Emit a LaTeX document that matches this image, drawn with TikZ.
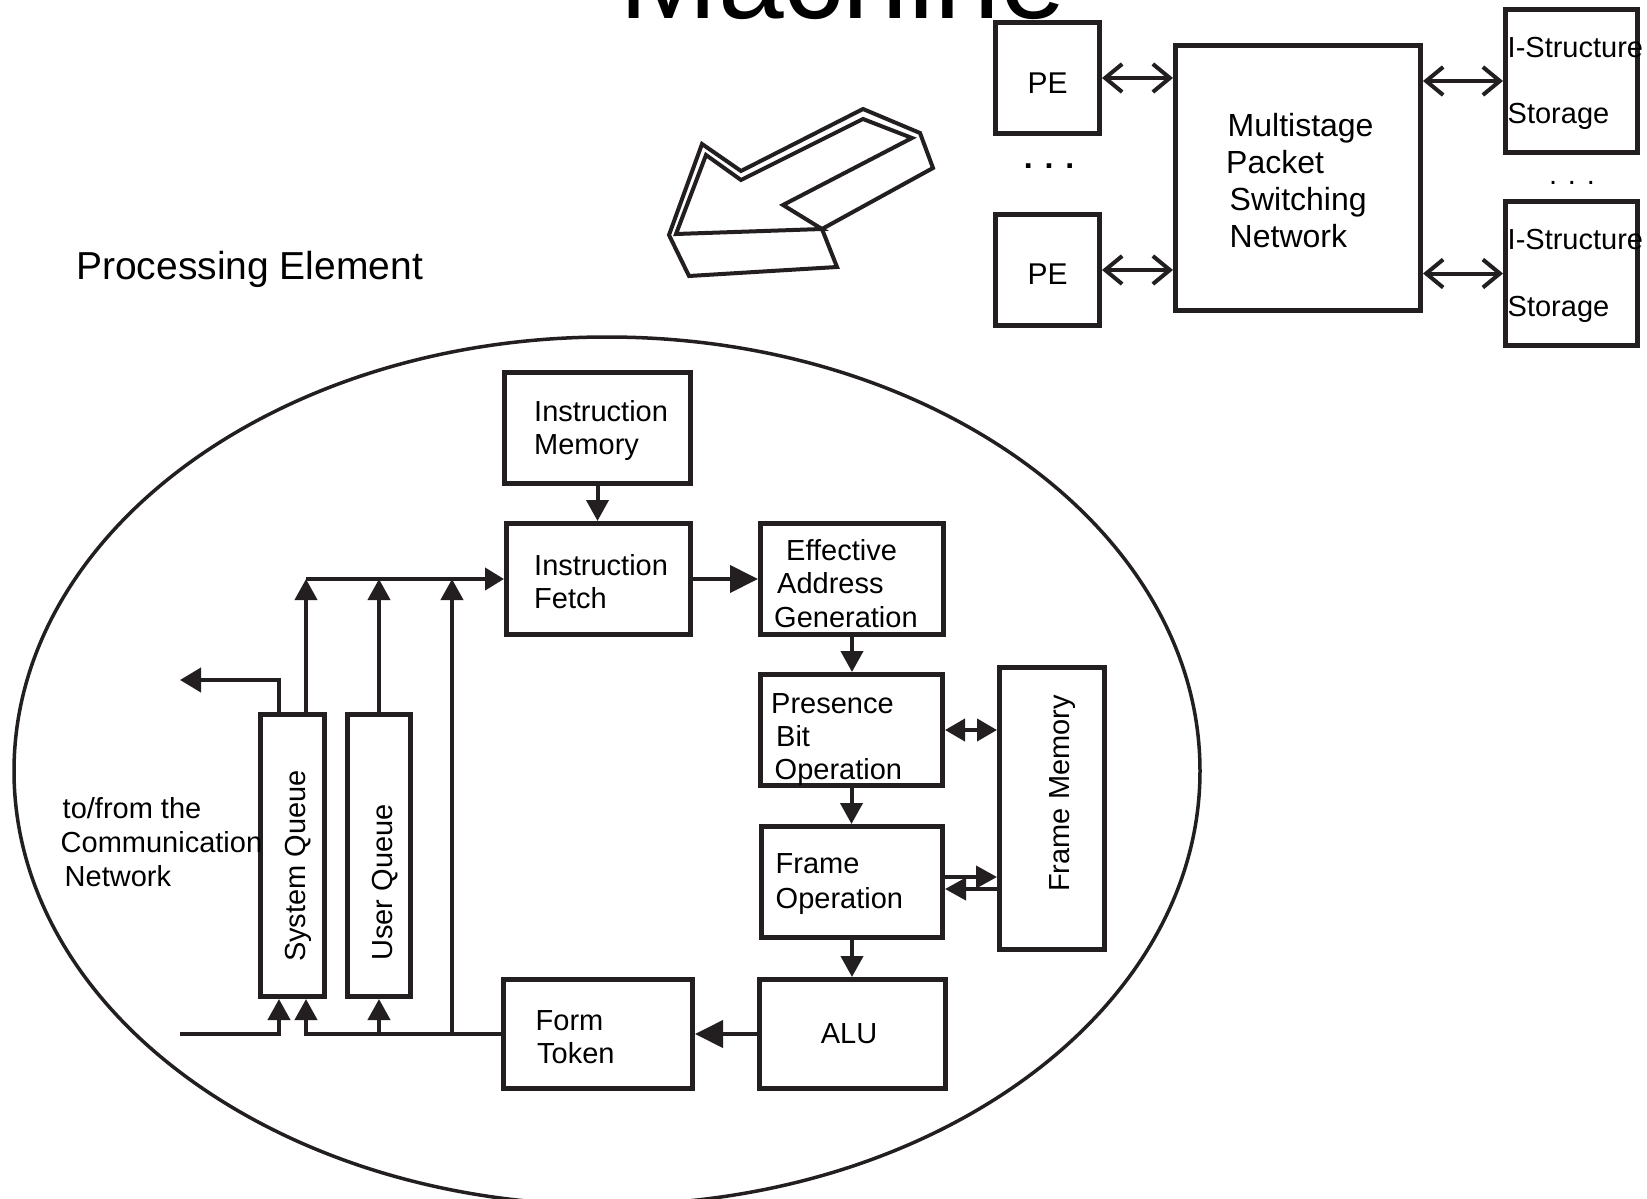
\documentclass[tikz,border=0pt]{standalone}
\usepackage{fontspec}
\setmainfont{Liberation Sans}
\usetikzlibrary{arrows.meta}
\definecolor{ink}{HTML}{231F20}
% multi-line label whose baseline is that of its first line
\newcommand\txtlines[1]{\begin{tabular}[t]{@{}l@{}}#1\end{tabular}}
% text lowered inside its box without changing the box's centring
\newcommand\lowered[2]{\raisebox{-#1}[0pt][0pt]{#2}}
\begin{document}
\begin{tikzpicture}[x=1pt,y=-1pt,
  box/.style={draw=ink, line width=5pt, inner sep=0pt},
  lbl/.style={inner sep=0pt, anchor=base west},
  conn/.style={draw=ink, line width=4pt},
  fhead/.style={-{Triangle[length=21pt,width=22pt]}},
  bighead/.style={-{Triangle[length=28pt,width=27pt]}},
  dblhead/.style={{Triangle[length=20pt,width=22pt]}-{Triangle[length=20pt,width=22pt]}},
  openarr/.style={{Straight Barb[length=17pt,width=28pt]}-{Straight Barb[length=17pt,width=28pt]}},
  fA/.style={font=\fontsize{29}{33}\selectfont},
  vtext/.style={inner sep=0pt, anchor=base, rotate=90, font=\fontsize{29}{33}\selectfont},
]
\fill[white] (0,0) rectangle (1647,1199);
\useasboundingbox (0,0) rectangle (1647,1199);

% ---------- title (runs off the top edge) ----------
\node[inner sep=0pt, anchor=base, font=\fontsize{118}{124}\selectfont] (title) at (843,19) {Machine};

% ---------- machine level ----------
\node[box, minimum width=104, minimum height=111, font=\fontsize{30}{34}\selectfont] (pe1) at (1047.5,78) {\lowered{15pt}{PE}};
\node[box, minimum width=104, minimum height=111, font=\fontsize{30}{34}\selectfont] (pe2) at (1047.5,270) {\lowered{14pt}{PE}};
\node[inner sep=0pt, anchor=base, font=\fontsize{32}{36}\selectfont\bfseries] (pedots) at (1049,168) {. . .};

\node[box, minimum width=245, minimum height=265] (net) at (1298,178) {};
\node[lbl, font=\fontsize{32}{37}\selectfont] (nettxt) at (1226,136)
  {\txtlines{\hspace{1.5pt}Multistage\\Packet\\\hspace{3.5pt}Switching\\\hspace{3.5pt}Network}};

\node[box, minimum width=132, minimum height=143] (is1) at (1571.5,81) {};
\node[box, minimum width=132, minimum height=144] (is2) at (1571.5,273.5) {};
\node[lbl, font=\fontsize{29}{66}\selectfont] (is1txt) at (1507.5,58) {\txtlines{I-Structure\\Storage}};
\node[lbl, font=\fontsize{29}{67}\selectfont] (is2txt) at (1507.5,249) {\txtlines{I-Structure\\Storage}};
\node[inner sep=0pt, anchor=base, font=\fontsize{29}{33}\selectfont] (isdots) at (1572,184) {. . .};

\draw[conn, openarr] (pe1.east) -- (net.west |- pe1.east);
\draw[conn, openarr] (pe2.east) -- (net.west |- pe2.east);
\draw[conn, openarr] (net.east |- is1.west) -- (is1.west);
\draw[conn, openarr] (net.east |- is2.west) -- (is2.west);

% ---------- hollow 3-D arrow pointing down into the element ----------
\draw[ink, line width=4pt, line join=miter]
  (669,235) -- (702,144) -- (741,171) -- (863,109) -- (920,133) -- (933,168)
  -- (822,229) -- (837,267) -- (689,276) -- cycle;
\draw[ink, line width=4pt, line join=miter]
  (676,234) -- (706,155) -- (741,180) -- (863,119) -- (912,138) -- (783,205)
  -- (822,229) -- cycle;

\node[lbl, font=\fontsize{39}{44}\selectfont] (ptitle) at (76,279) {Processing Element};

% ---------- processing element ----------
\draw[ink, line width=3.5pt] (607,771) ellipse [x radius=593, y radius=434];

\node[box, minimum width=186, minimum height=111] (im) at (597.5,428) {};
\node[box, minimum width=184, minimum height=111] (if) at (598.5,579) {};
\node[box, minimum width=183, minimum height=111] (eag) at (852,579) {};
\node[box, minimum width=182, minimum height=111] (pbo) at (851.5,730) {};
\node[box, minimum width=181, minimum height=111] (fo) at (852,882) {};
\node[box, minimum width=186, minimum height=109, fA] (alu) at (852.5,1034) {\hspace{-7pt}\lowered{9pt}{ALU}};
\node[box, minimum width=189, minimum height=109] (ft) at (598,1034) {};
\node[box, minimum width=105, minimum height=282] (fm) at (1052,808.5) {};
\node[box, minimum width=64, minimum height=282] (sq) at (292.5,855.5) {};
\node[box, minimum width=63, minimum height=282] (uq) at (379,855.5) {};

\node[lbl, fA] (imtxt) at (534,421) {\txtlines{Instruction\\Memory}};
\node[lbl, fA] (iftxt) at (534,575) {\txtlines{Instruction\\Fetch}};
\node[lbl, font=\fontsize{29}{33.5}\selectfont] (eagtxt) at (774,560)
  {\txtlines{\hspace{12pt}Effective\\\hspace{3pt}Address\\Generation}};
\node[lbl, fA] (pbotxt) at (771,713)
  {\txtlines{Presence\\\hspace{5pt}Bit\\\hspace{3.5pt}Operation}};
\node[lbl, font=\fontsize{29}{35}\selectfont] (fotxt) at (775.5,873) {\txtlines{Frame\\Operation}};
\node[lbl, fA] (fttxt) at (535.5,1030) {\txtlines{Form\\\hspace{1.5pt}Token}};
\node[lbl, font=\fontsize{29}{34}\selectfont] (commtxt) at (60.5,818)
  {\txtlines{\hspace{2pt}to/from the\\Communication\\\hspace{4pt}Network}};

\node[vtext] (sqtxt) at (305,866) {System Queue};
\node[vtext] (uqtxt) at (392,882.5) {User Queue};
\node[vtext] (fmtxt) at (1069,793.5) {Frame Memory};

% helper levels for the queue wiring
\coordinate (xsq) at (306,0);
\coordinate (xsqo) at (279,0);
\coordinate (xbus) at (452,0);
\coordinate (ybus) at (0,579);
\coordinate (fy1) at (0,877);
\coordinate (fy2) at (0,889);
\coordinate (outEnd) at (180,680);
\coordinate (inEnd) at (180,1034);

% pipeline
\draw[conn, fhead] (im.south) -- (im.south |- if.north);
\draw[conn, bighead] (if.east) -- (eag.west);
\draw[conn, fhead] (eag.south) -- (eag.south |- pbo.north);
\draw[conn, dblhead] (pbo.east) -- (fm.west |- pbo.east);
\draw[conn, fhead] (pbo.south) -- (pbo.south |- fo.north);
\draw[conn, fhead] (fo.east |- fy1) -- (fm.west |- fy1);
\draw[conn, fhead] (fm.west |- fy2) -- (fo.east |- fy2);
\draw[conn, fhead] (fo.south) -- (fo.south |- alu.north);
\draw[conn, bighead] (alu.west) -- (ft.east);

% token bus into instruction fetch
\draw[conn, -{Triangle[length=19pt,width=22pt]}] (xsq |- ybus) -- (if.west);
\draw[conn, fhead] (sq.north -| xsq) -- (xsq |- ybus);
\draw[conn, fhead] (uq.north) -- (uq.north |- ybus);
\draw[conn, fhead] (xbus |- ft.west) -- (xbus |- ybus);

% tokens back to the queues
\draw[conn, fhead] (ft.west) -- (xsq |- ft.west) -- (sq.south -| xsq);
\draw[conn, fhead] (uq.south |- ft.west) -- (uq.south);

% network in / out
\draw[conn, fhead] (inEnd) -- (xsqo |- inEnd) -- (sq.south -| xsqo);
\draw[conn, -{Triangle[length=21pt,width=24pt]}] (sq.north -| xsqo) -- (xsqo |- outEnd) -- (outEnd);
\end{tikzpicture}
\end{document}
